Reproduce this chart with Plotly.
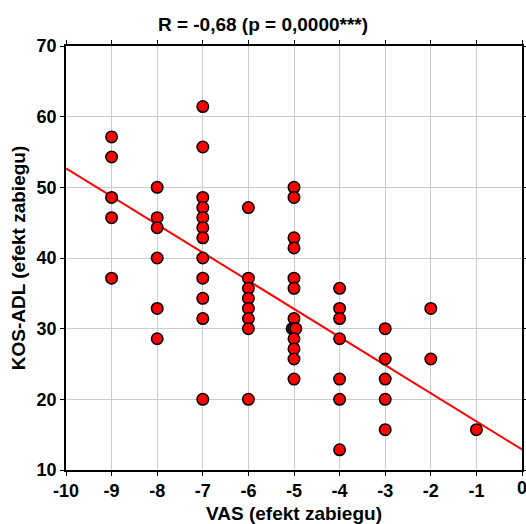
import plotly.graph_objects as go

vas = [-9]*5 + [-8]*6 + [-7]*12 + [-6]*8 + [-5, -5, -5, -5, -5, -5, -5, -5.04, -5, -4.96, -5, -5, -5, -5] \
    + [-4]*7 + [-3]*5 + [-2]*2 + [-1]
kos = [57.14, 54.29, 48.57, 45.71, 37.14,
       50.0, 45.71, 44.29, 40.0, 32.86, 28.57,
       61.43, 55.71, 48.57, 47.14, 45.71, 44.29, 42.86, 40.0, 37.14, 34.29, 31.43, 20.0,
       47.14, 37.14, 35.71, 34.29, 32.86, 31.43, 30.0, 20.0,
       50.0, 48.57, 42.86, 41.43, 37.14, 35.71, 31.43, 30.0, 30.0, 30.0, 28.57, 27.14, 25.71, 22.86,
       35.71, 32.86, 31.43, 28.57, 22.86, 20.0, 12.86,
       30.0, 25.71, 22.86, 20.0, 15.71,
       32.86, 25.71,
       15.71]

# regression line (intercept at VAS=0, slope)
fit_intercept = 12.9
fit_slope = -3.98
fit_x = [-10, 0]

title_text = "R = -0,68 (p = 0,0000***)"
x_title = "VAS (efekt zabiegu)"
y_title = "KOS-ADL (efekt zabiegu)"
x_ticks = list(range(-10, 1))
y_ticks = list(range(10, 71, 10))

fit_y = [fit_intercept + fit_slope * v for v in fit_x]

fam = "Liberation Sans, Arial, sans-serif"
tick_font = dict(family=fam, size=18, color="black", weight="bold")
title_font = dict(family=fam, size=19, color="black", weight="bold")

fig = go.Figure()
fig.add_trace(go.Scatter(x=fit_x, y=fit_y, mode="lines",
                         line=dict(color="#ff0000", width=2), hoverinfo="skip"))
fig.add_trace(go.Scatter(x=vas, y=kos, mode="markers",
                         marker=dict(size=11.5, color="#ff0000",
                                     line=dict(color="black", width=1.5))))

axis_common = dict(showgrid=True, gridcolor="#cccccc", gridwidth=1,
                   showline=True, linecolor="black", linewidth=1.5, mirror="allticks",
                   ticks="outside", ticklen=4, tickcolor="black", tickwidth=1,
                   zeroline=False, tickfont=tick_font, automargin=False)

fig.update_xaxes(range=[-10, 0], tickvals=x_ticks, ticktext=[str(v) for v in x_ticks],
                 title=dict(text=x_title, font=title_font, standoff=10), **axis_common)
fig.update_yaxes(range=[10, 70], tickvals=y_ticks, ticktext=[str(v) for v in y_ticks],
                 title=dict(text=y_title, font=title_font, standoff=6), **axis_common)

# last x tick label sits on the canvas edge (plotly drops it), so draw it as text
fig.add_annotation(x=x_ticks[-1], xref="x", y=0, yref="paper", yshift=-6,
                   text=str(x_ticks[-1]), showarrow=False, font=tick_font,
                   xanchor="center", yanchor="top")

fig.update_layout(
    width=526, height=524,
    margin=dict(l=66, r=4, t=46, b=54, autoexpand=False),
    paper_bgcolor="white", plot_bgcolor="white",
    showlegend=False,
    title=dict(text=title_text, font=title_font, x=0.5, xref="container", xanchor="center",
               y=1 - 24/524, yanchor="middle", automargin=False),
)

fig.write_html("out.html", config={"displayModeBar": False},
               post_script="document.body.style.margin='0';document.body.style.overflow='hidden';")
